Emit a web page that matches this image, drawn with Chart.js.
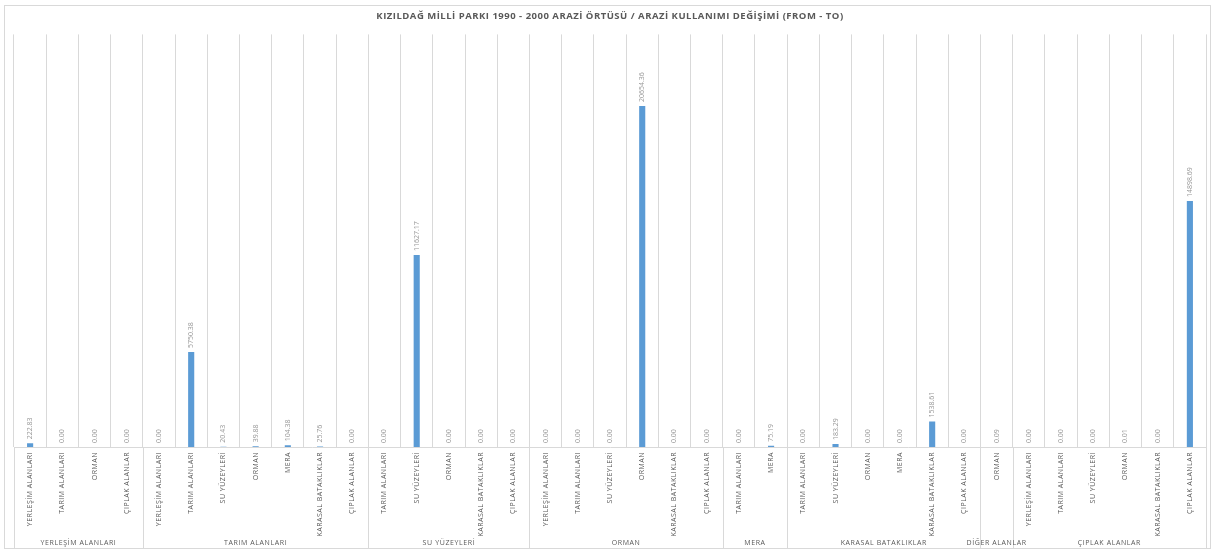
<!DOCTYPE html>
<html>
<head>
<meta charset="utf-8">
<script src="https://cdn.jsdelivr.net/npm/chart.js@4/dist/chart.umd.min.js"></script>
<style>
  html, body { margin: 0; padding: 0; background: #fff; }
  #wrap { width: 1215px; height: 553px; position: relative; }
</style>
</head>
<body>
<div id="wrap"><canvas id="chart"></canvas></div>
<script>
// group (FROM) names and how many TO classes each one has
const groups = ['YERLEŞİM ALANLARI', 'TARIM ALANLARI', 'SU YÜZEYLERİ', 'ORMAN', 'MERA', 'KARASAL BATAKLIKLAR', 'DİĞER ALANLAR', 'ÇIPLAK ALANLAR'];
const groupSizes = [4, 7, 5, 6, 2, 6, 1, 6];

// TO classes, in order
const categories = [
  'YERLEŞİM ALANLARI', 'TARIM ALANLARI', 'ORMAN', 'ÇIPLAK ALANLAR',
  'YERLEŞİM ALANLARI', 'TARIM ALANLARI', 'SU YÜZEYLERİ', 'ORMAN', 'MERA', 'KARASAL BATAKLIKLAR', 'ÇIPLAK ALANLAR',
  'TARIM ALANLARI', 'SU YÜZEYLERİ', 'ORMAN', 'KARASAL BATAKLIKLAR', 'ÇIPLAK ALANLAR',
  'YERLEŞİM ALANLARI', 'TARIM ALANLARI', 'SU YÜZEYLERİ', 'ORMAN', 'KARASAL BATAKLIKLAR', 'ÇIPLAK ALANLAR',
  'TARIM ALANLARI', 'MERA',
  'TARIM ALANLARI', 'SU YÜZEYLERİ', 'ORMAN', 'MERA', 'KARASAL BATAKLIKLAR', 'ÇIPLAK ALANLAR',
  'ORMAN',
  'YERLEŞİM ALANLARI', 'TARIM ALANLARI', 'SU YÜZEYLERİ', 'ORMAN', 'KARASAL BATAKLIKLAR', 'ÇIPLAK ALANLAR'
];

const values = [
  222.83, 0.00, 0.00, 0.00,
  0.00, 5750.38, 20.43, 39.88, 104.38, 25.76, 0.00,
  0.00, 11627.17, 0.00, 0.00, 0.00,
  0.00, 0.00, 0.00, 20654.36, 0.00, 0.00,
  0.00, 75.19,
  0.00, 183.29, 0.00, 0.00, 1538.61, 0.00,
  0.09,
  0.00, 0.00, 0.00, 0.01, 0.00, 14898.69
];

const gridColor = '#d9d9d9';
const textColor = '#595959';

// outer frame + letter spacing for the axis text
const framePlugin = {
  id: 'frame',
  beforeDraw(chart) {
    const ctx = chart.ctx;
    ctx.save();
    ctx.strokeStyle = gridColor;
    ctx.lineWidth = 1;
    ctx.strokeRect(4.5, 5.5, 1206, 543);
    ctx.restore();
    ctx.letterSpacing = '0.5px';
  }
};

// value labels above bars, rotated
const valueLabels = {
  id: 'valueLabels',
  afterDatasetsDraw(chart) {
    const ctx = chart.ctx;
    const meta = chart.getDatasetMeta(0);
    ctx.save();
    ctx.letterSpacing = '0px';
    ctx.font = '7px "Open Sans"';
    ctx.fillStyle = '#999999';
    ctx.textAlign = 'left';
    ctx.textBaseline = 'middle';
    meta.data.forEach((bar, i) => {
      ctx.save();
      ctx.translate(bar.x, bar.y - 4);
      ctx.rotate(-Math.PI / 2);
      ctx.fillText(values[i].toFixed(2), 0, 0);
      ctx.restore();
    });
    ctx.restore();
  }
};

// group (FROM) labels and separators under the axis
const groupAxis = {
  id: 'groupAxis',
  afterDraw(chart) {
    const ctx = chart.ctx;
    const x = chart.scales.x;
    const w = x.width / categories.length;
    const top = chart.chartArea.bottom;
    ctx.save();
    ctx.strokeStyle = gridColor;
    ctx.lineWidth = 1;
    ctx.fillStyle = textColor;
    ctx.font = '7px "Open Sans"';
    ctx.letterSpacing = '0.6px';
    ctx.textAlign = 'center';
    ctx.textBaseline = 'middle';
    let start = 0;
    const edge = (px) => {
      ctx.beginPath();
      ctx.moveTo(Math.round(px) + 0.5, top);
      ctx.lineTo(Math.round(px) + 0.5, 548);
      ctx.stroke();
    };
    edge(x.getPixelForValue(0) - w / 2);
    groups.forEach((g, gi) => {
      const end = start + groupSizes[gi] - 1;
      const left = x.getPixelForValue(start) - w / 2;
      const right = x.getPixelForValue(end) + w / 2;
      edge(right);
      ctx.fillText(g, (left + right) / 2, 543);
      start = end + 1;
    });
    ctx.restore();
  }
};

new Chart(document.getElementById('chart'), {
  type: 'bar',
  data: {
    labels: categories,
    datasets: [{
      data: values,
      backgroundColor: '#5b9bd5',
      categoryPercentage: 1,
      barPercentage: 0.19
    }]
  },
  options: {
    responsive: true,
    maintainAspectRatio: false,
    animation: false,
    layout: { padding: { left: 14, right: 9, top: 0, bottom: 0 } },
    plugins: {
      legend: { display: false },
      tooltip: { enabled: false },
      title: {
        display: true,
        text: 'KIZILDAĞ MİLLİ PARKI 1990 - 2000 ARAZİ ÖRTÜSÜ / ARAZİ KULLANIMI DEĞİŞİMİ (FROM - TO)',
        color: textColor,
        font: { family: 'Open Sans', size: 9.5, weight: 'bold' },
        padding: { top: 11, bottom: 12 }
      }
    },
    scales: {
      x: {
        offset: true,
        grid: { offset: true, color: gridColor, drawTicks: false },
        border: { color: gridColor },
        ticks: {
          color: textColor,
          font: { family: 'Open Sans', size: 7 },
          minRotation: 90,
          maxRotation: 90,
          autoSkip: false,
          padding: 5
        },
        afterFit(scale) { scale.height = 106; }
      },
      y: {
        display: false,
        min: 0,
        max: 25000
      }
    }
  },
  plugins: [framePlugin, valueLabels, groupAxis]
});
</script>
</body>
</html>
